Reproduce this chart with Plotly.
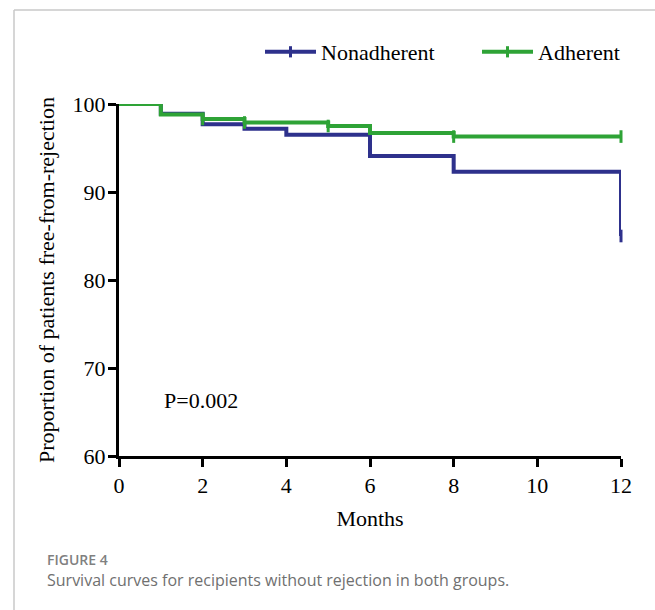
import plotly.graph_objects as go

# ---- data ----
non_months = [0, 1, 2, 3, 4, 6, 8, 12]
non_surv = [100, 98.9, 97.7, 97.2, 96.5, 94.1, 92.3, 85.0]
adh_months = [0, 1, 2, 3, 5, 6, 8, 12]
adh_surv = [100, 98.8, 98.3, 97.9, 97.5, 96.7, 96.3, 96.3]
non_censor_months = [12]
non_censor_surv = [85.0]
adh_censor_months = [2, 3, 5, 8, 12]
adh_censor_surv = [98.3, 97.9, 97.5, 96.3, 96.3]
x_ticks = [0, 2, 4, 6, 8, 10, 12]
y_ticks = [60, 70, 80, 90, 100]
series_names = ["Nonadherent", "Adherent"]
p_text = "P=0.002"
caption_label = "FIGURE 4"
caption_text = "Survival curves for recipients without rejection in both groups."

BLUE = "rgb(46,49,140)"
GREEN = "rgb(46,163,54)"
SERIF = "Liberation Serif, Times New Roman, serif"

W, H = 655, 610
L, R, T, B = 119, 34, 104, 154
PW, PH = W - L - R, H - T - B


def px_x(p):
    return (p - L) / PW


def px_y(p):
    return (H - B - p) / PH


fig = go.Figure()

for xs, ys, cx, cy, col in [
    (non_months, non_surv, non_censor_months, non_censor_surv, BLUE),
    (adh_months, adh_surv, adh_censor_months, adh_censor_surv, GREEN),
]:
    fig.add_trace(go.Scatter(x=xs, y=ys, mode="lines", line=dict(color=col, width=4, shape="hv"),
                             showlegend=False, hoverinfo="skip", cliponaxis=False))
    fig.add_trace(go.Scatter(x=cx, y=cy, mode="markers",
                             marker=dict(symbol="line-ns", size=9, line=dict(color=col, width=3)),
                             showlegend=False, hoverinfo="skip", cliponaxis=False))

# legend entries
for name, col in zip(series_names, [BLUE, GREEN]):
    fig.add_trace(go.Scatter(x=[None], y=[None], mode="lines+markers", name=name,
                             line=dict(color=col, width=4),
                             marker=dict(symbol="line-ns", size=8, line=dict(color=col, width=3))))

fig.add_annotation(x=1.97, y=66.35, xref="x", yref="y", text=p_text, showarrow=False,
                   font=dict(family=SERIF, size=22, color="black"))

fig.add_annotation(x=px_x(45), y=px_y(559), xref="paper", yref="paper", text=caption_label,
                   showarrow=False, xanchor="left", yanchor="middle",
                   font=dict(family="Open Sans", size=14, color="#808080", weight=600))
fig.add_annotation(x=px_x(45), y=px_y(580), xref="paper", yref="paper", text=caption_text,
                   showarrow=False, xanchor="left", yanchor="middle",
                   font=dict(family="Open Sans", size=16, color="#707070"))

# frame lines
fig.add_shape(type="line", xref="paper", yref="paper", x0=px_x(14), x1=px_x(14),
              y0=px_y(10), y1=px_y(H + 5), line=dict(color="#c8c8c8", width=1.5))
fig.add_shape(type="line", xref="paper", yref="paper", x0=px_x(14), x1=px_x(W + 5),
              y0=px_y(10), y1=px_y(10), line=dict(color="#c8c8c8", width=1.5))

axis_common = dict(showgrid=False, zeroline=False, showline=True, linecolor="black", linewidth=3,
                   ticks="outside", ticklen=8, tickwidth=3, tickcolor="black",
                   tickfont=dict(family=SERIF, size=22, color="black"))

fig.update_xaxes(range=[0, 12], tickvals=x_ticks, ticktext=[str(v) for v in x_ticks],
                 title=dict(text="Months", font=dict(family=SERIF, size=22, color="black"), standoff=14),
                 **axis_common)
fig.update_yaxes(range=[60, 100], tickvals=y_ticks, ticktext=[str(v) for v in y_ticks],
                 title=dict(text="Proportion of patients free-from-rejection",
                            font=dict(family=SERIF, size=22, color="black"), standoff=12),
                 ticklabelstandoff=-2, **axis_common)

fig.update_layout(
    width=W, height=H,
    margin=dict(l=L, r=R, t=T, b=B, autoexpand=False),
    paper_bgcolor="white", plot_bgcolor="white",
    legend=dict(orientation="h", x=px_x(260), y=px_y(52), xanchor="left", yanchor="middle",
                itemwidth=51, entrywidth=151, entrywidthmode="pixels",
                font=dict(family=SERIF, size=22, color="black"), bgcolor="rgba(0,0,0,0)"),
    showlegend=True,
)

fig.write_html("out.html", config={"displayModeBar": False},
               post_script="document.body.style.margin='0px';")
